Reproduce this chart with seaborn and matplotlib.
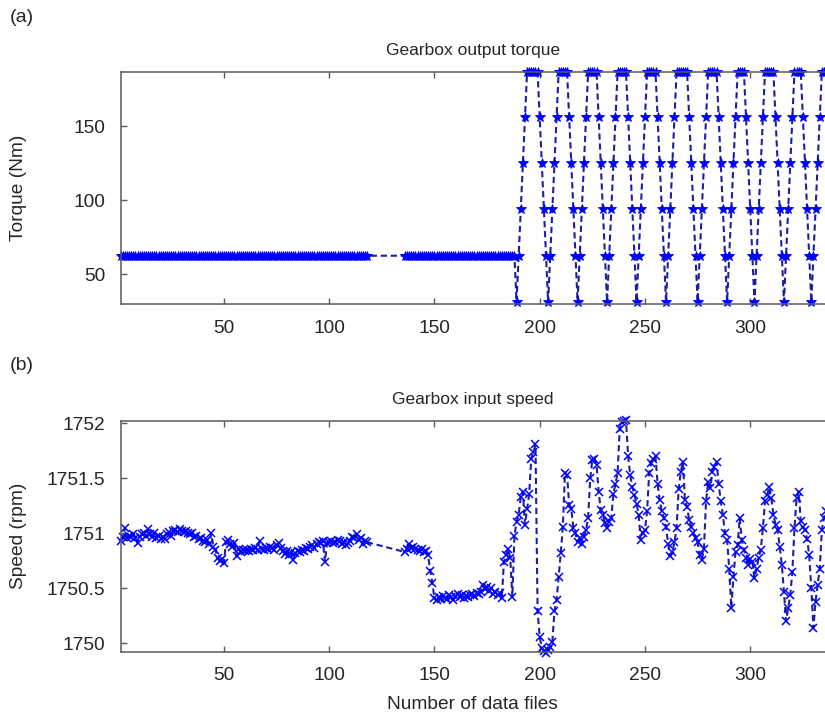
import matplotlib
matplotlib.use("Agg")
import matplotlib.pyplot as plt
import pandas as pd
import seaborn as sns

# ---------------- data ----------------
files_a = list(range(1, 119))      # first block of data files
files_b = list(range(136, 337))    # second block of data files

# Gearbox output torque (Nm)
torque_a = [62.5] * 118
torque_b = [62.5] * 53 + [
    31.25, 62.5, 93.75, 125, 156.25, 186.5, 186.5, 186.5, 186.5, 186.5, 186.5, 156.25, 125, 93.75, 62.5,
    31.25, 62.5, 93.75, 125, 156.25, 186.5, 186.5, 186.5, 186.5, 186.5, 156.25, 125, 93.75, 62.5,
    31.25, 62.5, 93.75, 125, 156.25, 186.5, 186.5, 186.5, 186.5, 186.5, 156.25, 125, 93.75, 62.5,
    31.25, 62.5, 93.75, 125, 156.25, 186.5, 186.5, 186.5, 186.5, 186.5, 156.25, 125, 93.75, 62.5,
    31.25, 62.5, 93.75, 125, 156.25, 186.5, 186.5, 186.5, 186.5, 186.5, 156.25, 125, 93.75, 62.5,
    31.25, 62.5, 93.75, 125, 156.25, 186.5, 186.5, 186.5, 186.5, 186.5, 186.5, 156.25, 125, 93.75, 62.5,
    31.25, 62.5, 93.75, 125, 156.25, 186.5, 186.5, 186.5, 186.5, 186.5, 156.25, 125, 93.75, 62.5,
    31.25, 62.5, 93.75, 125, 156.25, 186.5, 186.5, 186.5, 186.5, 156.25, 125, 93.75, 62.5,
    31.25, 62.5, 93.75, 125, 156.25, 186.5, 186.5, 186.5, 186.5, 186.5, 156.25, 125, 93.75, 62.5,
    31.25, 62.5, 93.75, 125, 156.25, 186.5, 186.5, 186.5, 186.5, 156.25, 125, 93.75, 62.5,
    31.25, 62.5, 93.75, 125, 156.25, 186.5, 186.5, 186.5,
]

# Gearbox input speed (rpm)
speed_a = [
    1750.93, 1750.97, 1751.05, 1750.96, 1750.98, 1750.97, 1750.99, 1750.96, 1750.91, 1750.97,
    1750.99, 1751.00, 1750.98, 1751.04, 1750.99, 1750.97, 1751.00, 1750.96, 1750.98, 1750.95,
    1750.97, 1750.95, 1750.99, 1751.01, 1750.98, 1751.02, 1751.03, 1751.01, 1751.04, 1751.02,
    1751.01, 1751.02, 1751.00, 1750.99, 1751.00, 1750.97, 1750.98, 1750.95, 1750.96, 1750.93,
    1750.92, 1750.94, 1750.90, 1751.00, 1750.88, 1750.85, 1750.78, 1750.75, 1750.77, 1750.73,
    1750.92, 1750.94, 1750.90, 1750.88, 1750.91, 1750.79, 1750.86, 1750.83, 1750.85, 1750.84,
    1750.85, 1750.84, 1750.86, 1750.85, 1750.87, 1750.85, 1750.93, 1750.86, 1750.85, 1750.87,
    1750.86, 1750.88, 1750.87, 1750.85, 1750.89, 1750.91, 1750.87, 1750.84, 1750.81, 1750.84,
    1750.80, 1750.83, 1750.76, 1750.82, 1750.84, 1750.83, 1750.85, 1750.84, 1750.87, 1750.86,
    1750.88, 1750.89, 1750.87, 1750.90, 1750.92, 1750.91, 1750.93, 1750.74, 1750.91, 1750.92,
    1750.93, 1750.91, 1750.92, 1750.94, 1750.93, 1750.90, 1750.92, 1750.89, 1750.91, 1750.93,
    1750.97, 1750.96, 1750.99, 1750.94, 1750.96, 1750.90, 1750.93, 1750.92,
]
speed_b = [
    1750.83, 1750.86, 1750.90, 1750.87, 1750.88, 1750.86, 1750.85, 1750.84, 1750.86, 1750.83, 1750.84, 1750.80,
    1750.66, 1750.55, 1750.41,
    1750.39, 1750.42, 1750.40, 1750.43, 1750.41, 1750.40, 1750.44, 1750.42, 1750.39, 1750.43, 1750.45,
    1750.42, 1750.44, 1750.41, 1750.43, 1750.42, 1750.44, 1750.45, 1750.43, 1750.46, 1750.45,
    1750.47, 1750.53, 1750.49, 1750.51, 1750.48, 1750.50, 1750.45, 1750.47, 1750.44, 1750.46, 1750.41,
    1750.74, 1750.80, 1750.86, 1750.78, 1750.42, 1750.98, 1751.10, 1751.17, 1751.33, 1751.38,
    1751.08, 1751.22, 1751.36, 1751.68, 1751.74, 1751.81, 1750.29, 1750.06, 1749.96, 1749.93,
    1749.91, 1749.94, 1749.97, 1750.01, 1750.29, 1750.39, 1750.60, 1750.82, 1751.06, 1751.55,
    1751.53, 1751.26, 1751.22, 1751.05, 1751.00, 1750.92, 1750.96, 1750.90, 1750.97, 1751.03,
    1751.14, 1751.50, 1751.67, 1751.68, 1751.62, 1751.38, 1751.21, 1751.17, 1751.09, 1751.05,
    1751.10, 1751.14, 1751.36, 1751.45, 1751.55, 1751.95, 1752.01, 1752.02, 1752.03, 1751.70,
    1751.53, 1751.42, 1751.35, 1751.27, 1751.17, 1750.94, 1751.00, 1751.03, 1751.20, 1751.55,
    1751.64, 1751.68, 1751.70, 1751.45, 1751.30, 1751.20, 1751.14, 1751.06, 1750.90, 1750.79,
    1750.83, 1750.92, 1751.05, 1751.40, 1751.56, 1751.65, 1751.30, 1751.24, 1751.12, 1751.06,
    1751.00, 1750.96, 1750.92, 1750.80, 1750.76, 1750.86, 1751.29, 1751.47, 1751.41, 1751.56,
    1751.60, 1751.65, 1751.45, 1751.29, 1751.17, 1751.00, 1750.94, 1750.68, 1750.32, 1750.60,
    1750.83, 1750.89, 1751.14, 1750.94, 1750.85, 1750.78, 1750.71, 1750.77, 1750.74, 1750.59,
    1750.68, 1750.78, 1750.85, 1751.05, 1751.29, 1751.35, 1751.42, 1751.32, 1751.17, 1751.08,
    1751.03, 1750.88, 1750.71, 1750.47, 1750.20, 1750.32, 1750.44, 1750.65, 1751.05, 1751.32,
    1751.38, 1751.11, 1751.06, 1751.03, 1750.95, 1750.80, 1750.50, 1750.14, 1750.38, 1750.53,
    1750.68, 1751.03, 1751.14, 1751.20,
]

x_ticks = [50, 100, 150, 200, 250, 300]
torque_ticks = [50, 100, 150]
speed_ticks = [1750, 1750.5, 1751, 1751.5, 1752]
speed_tick_labels = ["1750", "1750.5", "1751", "1751.5", "1752"]

df = pd.DataFrame({
    "file": files_a + files_b,
    "torque": torque_a + torque_b,
    "speed": speed_a + speed_b,
})

# ---------------- style ----------------
sns.set_theme(style="white")
plt.rcParams["font.family"] = ["Liberation Sans", "DejaVu Sans"]
TXT = "#262626"
SPINE = "#5a5a5a"
LINE = "#1e1ea0"
MARK = "#0000ff"

fig = plt.figure(figsize=(8.25, 7.16), dpi=100)
ax1 = fig.add_axes([0.1463, 0.575, 0.8537, 0.3244])
ax2 = fig.add_axes([0.1463, 0.0898, 0.8537, 0.3226])

sns.lineplot(data=df, x="file", y="torque", ax=ax1, estimator=None, sort=False,
             color=LINE, lw=1.5, linestyle="--", marker="*", markersize=7,
             markeredgecolor=MARK, markerfacecolor=MARK, markeredgewidth=0.6,
             clip_on=False)
sns.lineplot(data=df, x="file", y="speed", ax=ax2, estimator=None, sort=False,
             color=LINE, lw=1.5, linestyle="--", marker="x", markersize=6,
             markeredgecolor=MARK, markeredgewidth=1.1, clip_on=False)

for ln in ax1.lines + ax2.lines:
    ln.set_dashes([3.0, 1.8])

ax1.set_xlim(1, 335.5)
ax1.set_ylim(29.7, 186.5)
ax2.set_xlim(1, 335.5)
ax2.set_ylim(1749.924, 1752.024)

ax1.set_xticks(x_ticks)
ax2.set_xticks(x_ticks)
ax1.set_yticks(torque_ticks)
ax2.set_yticks(speed_ticks)
ax2.set_yticklabels(speed_tick_labels)

for ax in (ax1, ax2):
    ax.tick_params(axis="both", direction="in", top=True, right=False, bottom=True, left=True,
                   length=4.5, width=1, color=SPINE, labelcolor=TXT, labelsize=13.8)
    ax.tick_params(axis="y", pad=11)
    ax.tick_params(axis="x", pad=11)
    for side in ("left", "bottom", "top"):
        ax.spines[side].set_color(SPINE)
        ax.spines[side].set_linewidth(1.1)
    ax.spines["right"].set_visible(False)
    ax.grid(False)

ax1.set_title("Gearbox output torque", fontsize=12.5, color=TXT, pad=12)
ax2.set_title("Gearbox input speed", fontsize=12.5, color=TXT, pad=12)

ax1.set_xlabel("")
ax1.set_ylabel("Torque (Nm)", fontsize=13.8, color=TXT)
ax2.set_ylabel("Speed (rpm)", fontsize=13.8, color=TXT)
ax2.set_xlabel("Number of data files", fontsize=13.8, color=TXT)
ax1.yaxis.set_label_coords(-0.1335, 0.5)
ax2.yaxis.set_label_coords(-0.1335, 0.5)
ax2.xaxis.set_label_coords(0.5, -0.19)

fig.text(10 / 825, 1 - 18 / 716, "(a)", fontsize=14, color=TXT, ha="left", va="center")
fig.text(10 / 825, 1 - 365 / 716, "(b)", fontsize=14, color=TXT, ha="left", va="center")

fig.savefig("out.png", dpi=100)
